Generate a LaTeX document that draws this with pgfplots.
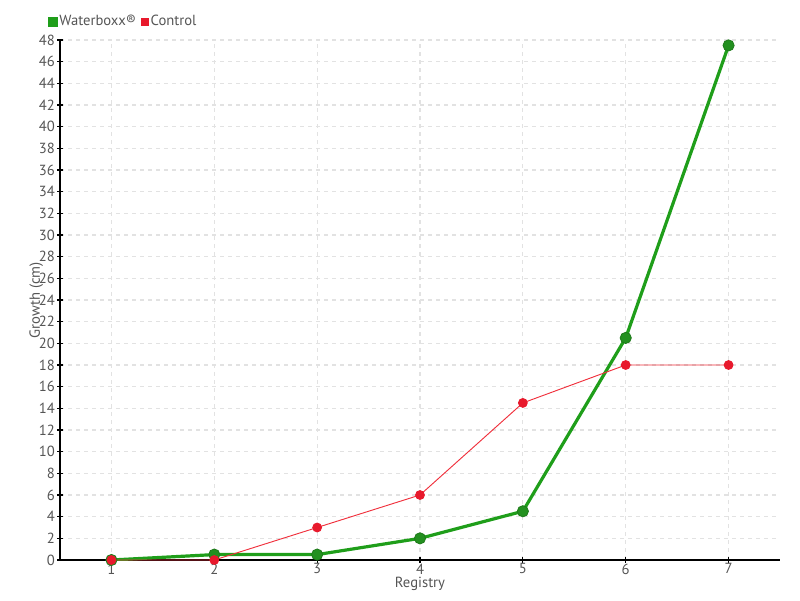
\documentclass[border=0pt]{standalone}
\usepackage{pgfplots}
\pgfplotsset{compat=1.18}
\usepackage{fontspec}
\setmainfont{PT Sans}
\definecolor{txt}{HTML}{555555}
\definecolor{gline}{HTML}{1F9E1A}
\definecolor{gmark}{HTML}{23901F}
\definecolor{rline}{HTML}{F0303C}
\definecolor{rmark}{HTML}{E8192C}
\definecolor{gridc}{HTML}{E2E2E2}

\begin{document}
\begin{tikzpicture}[x=0.75pt,y=0.75pt]
  \begin{axis}[
    name=ax, scale only axis,
    width=540pt, height=390pt,
    xmin=0.5, xmax=7.5, ymin=0, ymax=48,
    xtick={1,...,7}, ytick={0,2,...,48},
    axis x line*=bottom, axis y line*=left,
    axis line style={black, line width=0.8pt},
    grid=major, grid style={gridc, dashed, line width=0.8pt},
    tick align=center, major tick length=4.5pt,
    tick style={black, line width=0.8pt},
    tick label style={font=\fontsize{11}{11}\selectfont, text=txt},
    label style={font=\fontsize{11}{11}\selectfont, text=txt},
    /pgf/number format/assume math mode=true,
    xticklabel style={yshift=3pt},
    yticklabel style={xshift=2pt},
    xlabel={Registry}, ylabel={Growth (cm)},
    xlabel style={yshift=5pt},
    ylabel style={yshift=-10pt},
    legend columns=2,
    legend style={at={(-0.017,1.02)}, anchor=south west, draw=none, fill=none,
      font=\fontsize{11}{11}\selectfont, text=txt,
      /tikz/every even column/.append style={column sep=3pt},
      inner sep=0pt, nodes={inner sep=1pt}},
    legend image code/.code={\fill[#1] (0pt,-2.6pt) rectangle (5.2pt,2.6pt);},
  ]
    \addplot[gline, line width=2.4pt, mark=*, mark size=4.2pt,
      mark options={fill=gmark, draw=gmark!85!black, line width=0.6pt},
      legend image code/.code={\fill[gline] (0pt,-2.6pt) rectangle (5.2pt,2.6pt);}]
      coordinates {(1,0) (2,0.5) (3,0.5) (4,2) (5,4.5) (6,20.5) (7,47.5)};
    \addlegendentry{Waterboxx®}
    \addplot[rline, line width=0.7pt, mark=*, mark size=3.3pt,
      mark options={fill=rmark, draw=rmark},
      legend image code/.code={\fill[rmark] (0pt,-2.6pt) rectangle (5.2pt,2.6pt);}]
      coordinates {(1,0) (2,0) (3,3) (4,6) (5,14.5) (6,18) (7,18)};
    \addlegendentry{Control}
  \end{axis}
  \path[use as bounding box] ([xshift=-45pt,yshift=-30pt]ax.south west) rectangle ([xshift=15pt,yshift=30pt]ax.north east);
\end{tikzpicture}
\end{document}
